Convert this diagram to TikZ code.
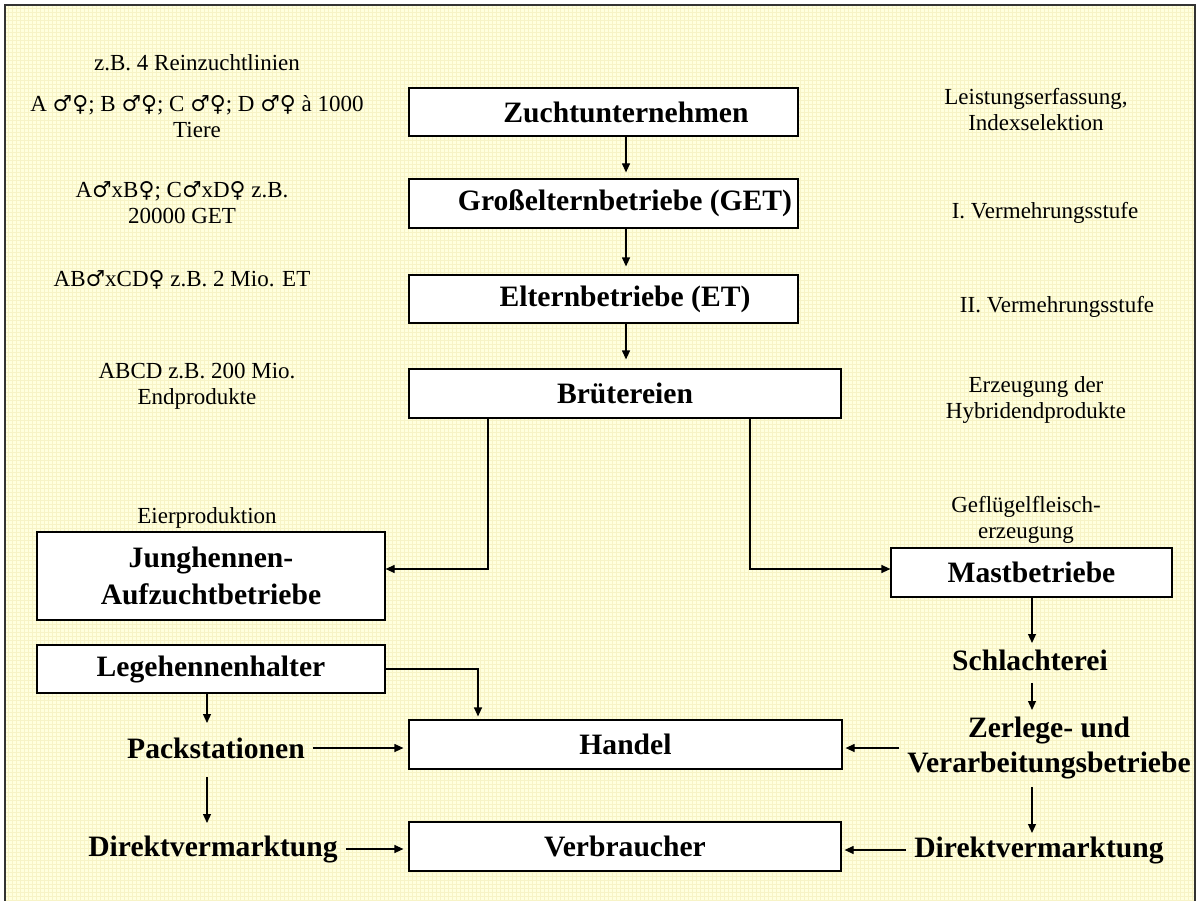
\documentclass[tikz,border=0pt]{standalone}
\usepackage{fontspec}
\setmainfont{Liberation Serif}
\newfontfamily\symfnt{DejaVu Serif}[Scale=0.95]
\newcommand{\symM}{{\symfnt ♂}}
\newcommand{\symF}{{\symfnt ♀}}
\usetikzlibrary{arrows.meta}
\definecolor{bgyel}{RGB}{255,255,222}
\definecolor{gridyel}{RGB}{247,243,198}
\tikzset{
  box/.style={draw=black, line width=1.2pt, fill=white, inner sep=0pt},
  bt/.style={font=\bfseries\fontsize{29.6}{37}\selectfont, align=center, inner ysep=0pt, inner xsep=8pt},
  nt/.style={font=\fontsize{23}{26}\selectfont, align=center, inner sep=0pt},
  arr/.style={line width=1.2pt, -{Triangle[length=9pt,width=8pt]}},
}
\begin{document}
\begin{tikzpicture}[x=1pt,y=-1pt]
\useasboundingbox (0,0) rectangle (1198,901);
\fill[white] (0,0) rectangle (1198,901);
\fill[bgyel] (5,5) rectangle (1195,905);
\draw[gridyel, line width=0.5pt, step=4pt] (5,5) grid (1195,901);
\draw[line width=1.4pt, black!80] (5,5) rectangle (1195,905);

% boxes
\node[box, minimum width=389pt, minimum height=48pt] (zucht) at (603.5,112) {};
\node[bt] (zuchtT) at (626,112) {Zuchtunternehmen};
\node[box, minimum width=389pt, minimum height=49pt] (gross) at (603.5,203.5) {};
\node[bt] (grossT) at (625,203.5) {Großelternbetriebe (GET)};
\node[box, minimum width=389pt, minimum height=48pt] (eltern) at (603.5,299) {};
\node[bt] (elternT) at (625,299) {Elternbetriebe (ET)};
\node[box, bt, minimum width=432pt, minimum height=49pt] (brut) at (625,393.5) {Brütereien};
\node[box, bt, minimum width=348pt, minimum height=88pt] (jung) at (211,576) {Junghennen-\\Aufzuchtbetriebe};
\node[box, bt, minimum width=348pt, minimum height=48pt] (lege) at (211,669) {Legehennenhalter};
\node[box, bt, minimum width=281pt, minimum height=49pt] (mast) at (1031.5,572.5) {Mastbetriebe};
\node[box, bt, minimum width=433pt, minimum height=49pt] (handel) at (625.5,744.5) {Handel};
\node[box, bt, minimum width=432pt, minimum height=49pt] (verbr) at (625,846.5) {Verbraucher};

% free bold labels
\node[bt] (pack) at (216,748) {Packstationen};
\node[bt] (dv1) at (213,849) {Direktvermarktung};
\node[bt] (schl) at (1030,660) {Schlachterei};
\node[bt, font=\bfseries\fontsize{29.6}{35}\selectfont] (zerl) at (1049,748) {Zerlege- und\\Verarbeitungsbetriebe};
\node[bt] (dv2) at (1039,850) {Direktvermarktung};

% side notes
\node[nt] (l1) at (197,63) {z.B. 4 Reinzuchtlinien};
\node[nt] (l2) at (197,117) {A \symM\symF; B \symM\symF; C \symM\symF; D \symM\symF{} à 1000\\Tiere};
\node[nt] (l3) at (182,203) {A\symM xB\symF; C\symM xD\symF{} z.B.\\20000 GET};
\node[nt] (l4) at (182,280) {AB\symM xCD\symF{} z.B. 2 Mio. ET};
\node[nt] (l5) at (197,386) {ABCD z.B. 200 Mio.\\Endprodukte};
\node[nt] (l6) at (207,518) {Eierproduktion};
\node[nt] (r1) at (1036,110) {Leistungserfassung,\\Indexselektion};
\node[nt] (r2) at (1045,213) {I. Vermehrungsstufe};
\node[nt] (r3) at (1057,307) {II. Vermehrungsstufe};
\node[nt] (r4) at (1036,400) {Erzeugung der\\Hybridendprodukte};
\node[nt] (r5) at (1026,520) {Geflügelfleisch-\\erzeugung};

% connectors
\draw[arr, shorten >=6pt] (zuchtT |- zucht.south) -- (zuchtT |- gross.north);
\draw[arr, shorten >=8pt] (zuchtT |- gross.south) -- (zuchtT |- eltern.north);
\draw[arr, shorten >=9pt] (zuchtT |- eltern.south) -- (zuchtT |- brut.north);

\coordinate (bl) at (488,569);
\coordinate (br) at (750,569);
\draw[arr] (bl |- brut.south) -- (bl) -- (bl -| jung.east);
\draw[arr] (br |- brut.south) -- (br) -- (br -| mast.west);

\coordinate (lh) at (478,669);
\draw[arr, shorten >=3pt] (lh -| lege.east) -- (lh) -- (lh |- handel.north);
\coordinate (la) at (207,723);
\coordinate (pa) at (207,777);
\coordinate (pb) at (207,823);
\draw[arr] (la |- lege.south) -- (la);
\draw[arr] (pa) -- (pb);
\draw[arr, shorten >=5pt] (pack.east) -- (pack.east -| handel.west);
\draw[arr, shorten >=5pt] (dv1.east) -- (dv1.east -| verbr.west);

\coordinate (ma) at (1032,643);
\coordinate (sa) at (1032,683);
\coordinate (sb) at (1032,710);
\coordinate (za) at (1032,787);
\coordinate (zb) at (1032,833);
\draw[arr] (ma |- mast.south) -- (ma);
\draw[arr] (sa) -- (sb);
\draw[arr] (za) -- (zb);
\draw[arr, shorten >=3pt] (zerl.west) -- (zerl.west -| handel.east);
\draw[arr, shorten >=3pt] (dv2.west) -- (dv2.west -| verbr.east);
\end{tikzpicture}
\end{document}
